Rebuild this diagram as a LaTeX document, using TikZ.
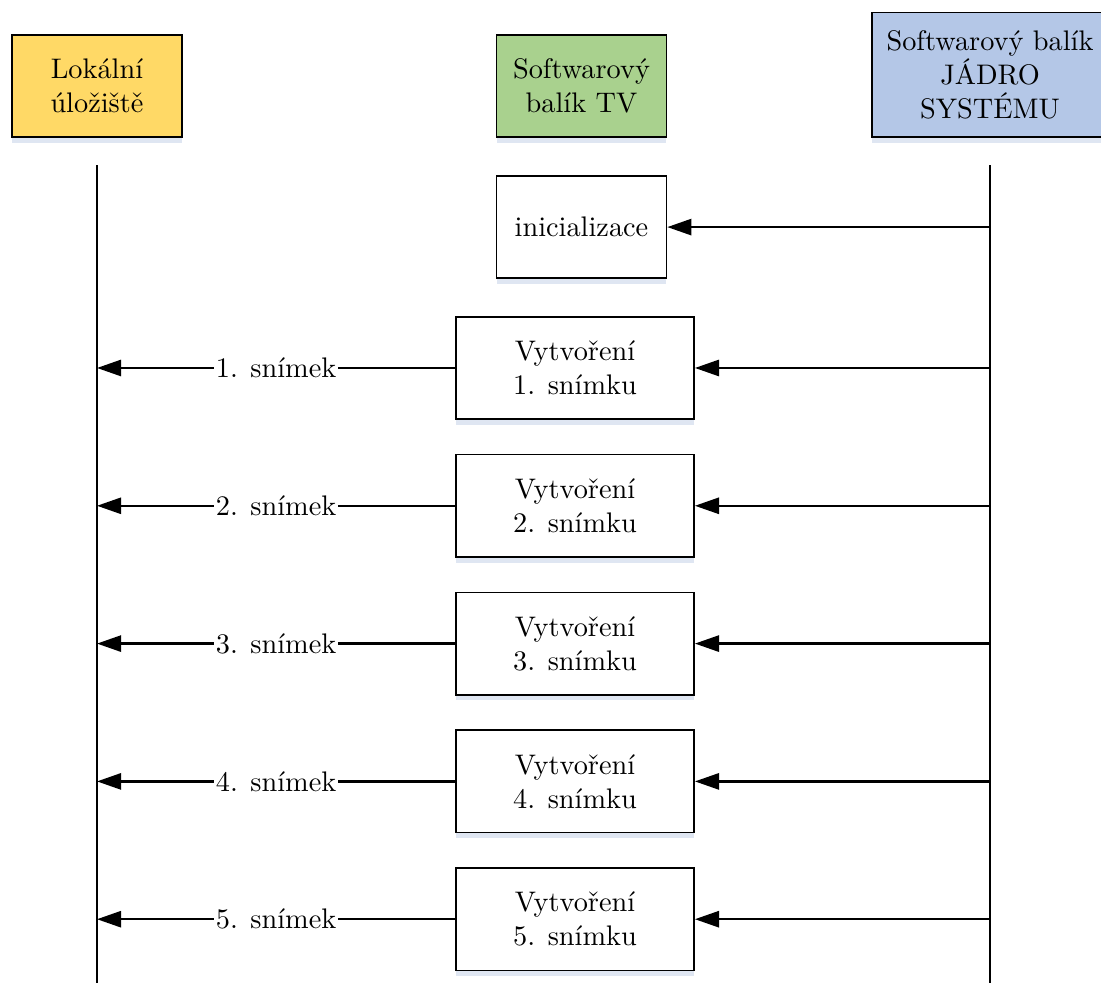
\documentclass[tikz,border=0pt]{standalone}
\usepackage{fontspec}
\usepackage{xcolor}
\usepackage{tikz}
\usetikzlibrary{arrows.meta,positioning,shadows,calc}

\definecolor{storecolor}{HTML}{FFD966}
\definecolor{tvcolor}{HTML}{A9D18E}
\definecolor{corecolor}{HTML}{B4C7E7}
\definecolor{shadecolor}{HTML}{C9D6EA}

\begin{document}
\begin{tikzpicture}[
        header/.style={rectangle, draw, align=center, minimum width=2.11cm, minimum height=1.27cm, line width=0.6pt, drop shadow={shadow xshift=0pt, shadow yshift=-2pt, fill=shadecolor, opacity=0.6}},
        taskbox/.style={rectangle, draw, fill=white, align=center, minimum width=2.11cm, minimum height=1.27cm, line width=0.6pt, drop shadow={shadow xshift=0pt, shadow yshift=-2pt, fill=shadecolor, opacity=0.6}},
        framebox/.style={taskbox, minimum width=2.955cm},
        lifeline/.style={draw, line width=0.9pt},
        line/.style={draw, -{Triangle[length=3mm, width=2mm]}, line width=0.9pt},
        framelabel/.style={fill=white, inner sep=0.5pt}
    ]
    \useasboundingbox (0,0) rectangle (13.671,-12.206);

    % Participants
    \node [header, fill=storecolor, anchor=south] (store) at (1.204,-1.714) {Lokální\\úložiště};
    \node [header, fill=tvcolor, anchor=south] (tv) at (7.22,-1.714) {Softwarový\\balík TV};
    \node [header, fill=corecolor, anchor=south, minimum width=2.93cm, minimum height=1.55cm] (core) at (12.293,-1.714) {Softwarový balík\\JÁDRO\\SYSTÉMU};

    % Lifelines
    \coordinate (storetop) at (1.204,-2.049);
    \coordinate (storebot) at (1.204,-12.206);
    \coordinate (coretop) at (12.293,-2.049);
    \coordinate (corebot) at (12.293,-12.206);
    \path [lifeline] (storetop) -- (storebot);
    \path [lifeline] (coretop) -- (corebot);

    % Initialisation
    \node [taskbox, below=0.46cm of tv] (init) {inicializace};

    % Frames
    \node [framebox] (frame1) at (7.14,-4.569) {Vytvoření\\1. snímku};
    \node [framebox, below=0.42cm of frame1] (frame2) {Vytvoření\\2. snímku};
    \node [framebox, below=0.42cm of frame2] (frame3) {Vytvoření\\3. snímku};
    \node [framebox, below=0.42cm of frame3] (frame4) {Vytvoření\\4. snímku};
    \node [framebox, below=0.42cm of frame4] (frame5) {Vytvoření\\5. snímku};

    % Calls from the core
    \path [line] (init -| coretop) -- (init);
    \path [line] (frame1 -| coretop) -- (frame1);
    \path [line] (frame2 -| coretop) -- (frame2);
    \path [line] (frame3 -| coretop) -- (frame3);
    \path [line] (frame4 -| coretop) -- (frame4);
    \path [line] (frame5 -| coretop) -- (frame5);

    % Frames written to the store
    \path [line] (frame1) -- node [framelabel] {1. snímek} (frame1 -| storetop);
    \path [line] (frame2) -- node [framelabel] {2. snímek} (frame2 -| storetop);
    \path [line] (frame3) -- node [framelabel] {3. snímek} (frame3 -| storetop);
    \path [line] (frame4) -- node [framelabel] {4. snímek} (frame4 -| storetop);
    \path [line] (frame5) -- node [framelabel] {5. snímek} (frame5 -| storetop);

\end{tikzpicture}
\end{document}
